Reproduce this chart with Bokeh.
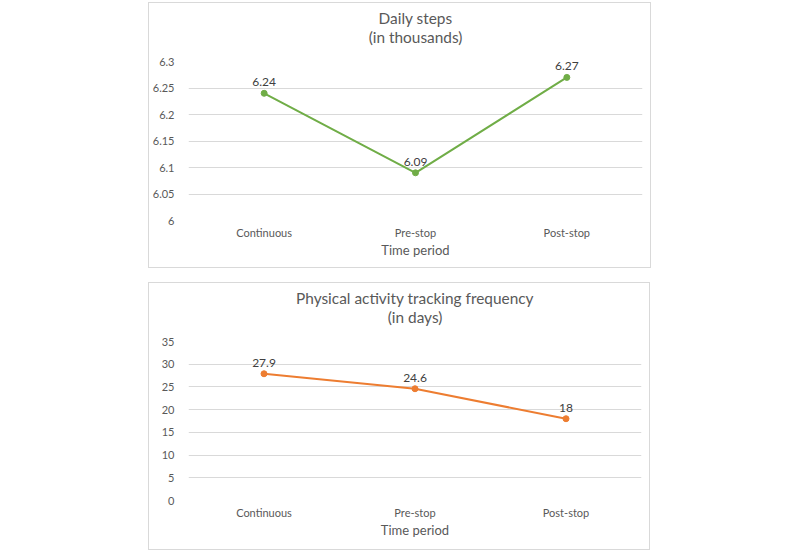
from bokeh.plotting import figure
from bokeh.models import FactorRange, Title, ColumnDataSource, Spacer, FixedTicker
from bokeh.layouts import column, row
from bokeh.core.properties import value
from bokeh.embed import file_html
from bokeh.resources import INLINE

# ---- data ----
categories = ["Continuous", "Pre-stop", "Post-stop"]
steps = [6.24, 6.09, 6.27]
steps_labels = ["6.24", "6.09", "6.27"]
tracking = [27.9, 24.6, 18]
tracking_labels = ["27.9", "24.6", "18"]
y1_ticks = [6.0, 6.05, 6.1, 6.15, 6.2, 6.25, 6.3]
y1_tick_labels = ["6", "6.05", "6.1", "6.15", "6.2", "6.25", "6.3"]
y2_ticks = [0, 5, 10, 15, 20, 25, 30, 35]
x_label = "Time period"

FONT = "Lato"
TXT = "#595959"
GRID = "#d9d9d9"


def make_panel(vals, labels, yr, ticks, tick_labels, color, t1, t2, w, h, ml, mr, mt, mb):
    p = figure(x_range=FactorRange(*categories, range_padding=0), y_range=yr,
               width=w, height=h, output_backend="svg", toolbar_location=None,
               min_border_left=ml, min_border_right=mr, min_border_top=mt, min_border_bottom=mb)
    p.styles = {"border": "1px solid #d9d9d9"}
    p.outline_line_color = None
    p.add_layout(Title(text=t2, align="center", text_font=FONT, text_font_size="15.4px",
                       text_font_style="normal", text_color=TXT, standoff=32), "above")
    p.add_layout(Title(text=t1, align="center", text_font=FONT, text_font_size="15.4px",
                       text_font_style="normal", text_color=TXT, standoff=-34), "above")
    src = ColumnDataSource(dict(x=categories, y=vals, lab=labels))
    p.line("x", "y", source=src, line_color=color, line_width=2)
    p.scatter("x", "y", source=src, size=6, fill_color=color, line_color=color)
    p.text("x", "y", text="lab", source=src, text_align="center", text_baseline="bottom",
           y_offset=-7, text_font=value(FONT), text_font_size="12px", text_color="#404040")
    p.yaxis.ticker = FixedTicker(ticks=ticks)
    if tick_labels is not None:
        p.yaxis.major_label_overrides = {t: l for t, l in zip(ticks, tick_labels)}
    p.xgrid.grid_line_color = None
    p.ygrid.grid_line_color = GRID
    p.ygrid.grid_line_width = 1
    for ax in (p.xaxis, p.yaxis):
        ax.axis_line_color = None
        ax.major_tick_line_color = None
        ax.minor_tick_line_color = None
        ax.major_label_text_font = FONT
        ax.major_label_text_font_size = "11px"
        ax.major_label_text_color = TXT
    p.yaxis.major_label_standoff = 8
    p.xaxis.major_label_standoff = -1
    p.xaxis.axis_label = x_label
    p.xaxis.axis_label_text_font = FONT
    p.xaxis.axis_label_text_font_size = "13px"
    p.xaxis.axis_label_text_font_style = "normal"
    p.xaxis.axis_label_text_color = TXT
    p.xaxis.axis_label_standoff = 0
    return p


p1 = make_panel(steps, steps_labels, (6.0, 6.3), y1_ticks, y1_tick_labels, "#70AD47",
                "Daily steps", "(in thousands)", 503, 266, 36, 10, 58, 49)
p2 = make_panel(tracking, tracking_labels, (0, 35), y2_ticks, None, "#ED7D31",
                "Physical activity tracking frequency", "(in days)", 502, 268, 28, 8, 58, 51)

layout = row(Spacer(width=148), column(p1, Spacer(height=14), p2))
layout.styles = {"margin-top": "2px"}

open("out.html", "w").write(file_html(layout, INLINE))
